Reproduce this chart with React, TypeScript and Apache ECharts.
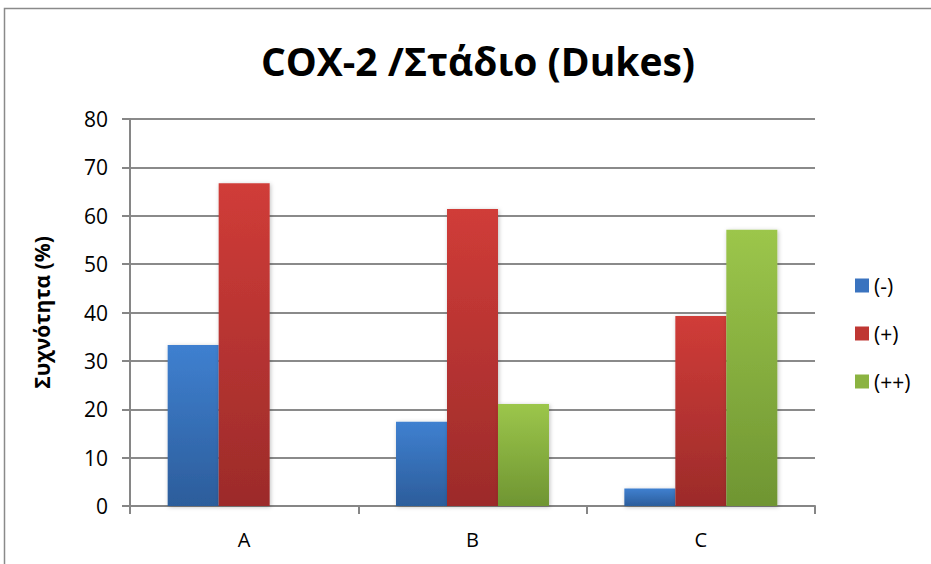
import React, { useEffect, useRef } from "react";
import * as echarts from "echarts";

const categories = ["A", "B", "C"];
const seriesNames = ["(-)", "(+)", "(++)"];
const negValues = [33.3, 17.4, 3.6];
const posValues = [66.7, 61.4, 39.3];
const posPosValues = [0, 21.1, 57.1];
const yTicks = { min: 0, max: 80, interval: 10 };

const FONT = "'Open Sans', 'Noto Sans', sans-serif";

function grad(top: string, bottom: string) {
  return new echarts.graphic.LinearGradient(0, 0, 0, 1, [
    { offset: 0, color: top },
    { offset: 1, color: bottom },
  ]);
}

export default function App() {
  const ref = useRef<HTMLDivElement>(null);
  useEffect(() => {
    if (!ref.current) return;
    const chart = echarts.init(ref.current, null, { renderer: "svg" });
    const colors = [
      grad("#3f80d0", "#2c5d9b"),
      grad("#d03c38", "#9c2b2a"),
      grad("#9cc64b", "#6f9532"),
    ];
    const legendColors = ["#3a73bf", "#bf3733", "#8bb341"];
    const data = [negValues, posValues, posPosValues];
    chart.setOption({
      animation: false,
      backgroundColor: "#ffffff",
      title: {
        text: "COX-2 /Στάδιο (Dukes)",
        left: 473,
        top: 36,
        textAlign: "center",
        textStyle: { fontFamily: FONT, fontWeight: "bold", fontSize: 39, color: "#000" },
      },
      graphic: [
        {
          type: "rect",
          shape: { x: 4.5, y: 8.5, width: 940, height: 570 },
          style: { fill: "none", stroke: "#8a8a8a", lineWidth: 1.5 },
          silent: true,
        },
      ],
      legend: {
        orient: "vertical",
        left: 855,
        top: 275,
        padding: 0,
        itemWidth: 14,
        itemHeight: 14,
        itemGap: 27,
        itemTextGap: 8,
        icon: "rect",
        textStyle: { fontFamily: FONT, fontSize: 21, color: "#000" },
        data: seriesNames.map((n, i) => ({ name: n, itemStyle: { color: legendColors[i] } })),
      },
      grid: { left: 130, right: 116, top: 119, bottom: 58, containLabel: false },
      xAxis: {
        type: "category",
        data: categories,
        axisLine: { lineStyle: { color: "#868686", width: 2 } },
        axisTick: { show: true, length: 8, lineStyle: { color: "#868686", width: 2 } },
        axisLabel: { fontFamily: FONT, fontSize: 20, color: "#000", margin: 23 },
      },
      yAxis: {
        type: "value",
        min: yTicks.min,
        max: yTicks.max,
        interval: yTicks.interval,
        name: "Συχνότητα (%)",
        nameLocation: "middle",
        nameGap: 78,
        nameRotate: 90,
        nameTextStyle: { fontFamily: FONT, fontWeight: "bold", fontSize: 21, color: "#000" },
        axisLine: { show: true, lineStyle: { color: "#868686", width: 2 } },
        axisTick: { show: true, length: 8, lineStyle: { color: "#868686", width: 2 } },
        axisLabel: { fontFamily: FONT, fontSize: 21, color: "#000", margin: 22 },
        splitLine: { lineStyle: { color: "#8a8a8a", width: 2 } },
      },
      series: seriesNames.map((n, i) => ({
        name: n,
        type: "bar",
        data: data[i],
        barGap: "0%",
        barCategoryGap: "33%",
        itemStyle: {
          color: colors[i],
          shadowColor: "rgba(0,0,0,0.25)",
          shadowBlur: 4,
          shadowOffsetX: 1,
          shadowOffsetY: 1,
        },
      })),
    });
    return () => chart.dispose();
  }, []);
  return (
    <div
      ref={ref}
      style={{ position: "fixed", left: 0, top: 0, width: 931, height: 564 }}
    />
  );
}
